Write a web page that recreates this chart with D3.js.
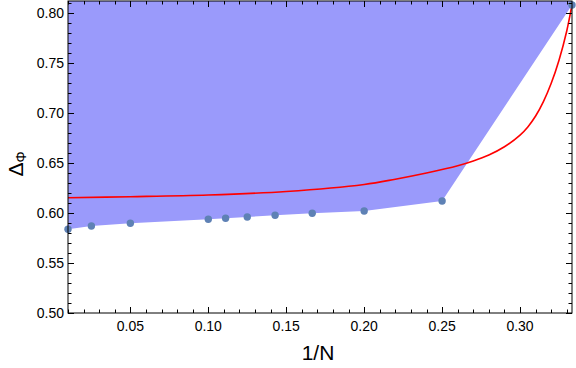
<!DOCTYPE html>
<html><head><meta charset="utf-8">
<script src="https://cdn.jsdelivr.net/npm/d3@7"></script>
<style>body{margin:0;background:#fff}svg{display:block}text{font-family:"Liberation Sans",Arial,sans-serif}</style>
</head><body>
<svg id="c" width="576" height="368"></svg>
<script>
// Data
const invN = [0.01, 0.025, 0.05, 0.1, 1/9, 0.125, 1/7, 1/6, 0.2, 0.25, 1/3];
const delta = [0.5837, 0.587, 0.5897, 0.5937, 0.5947, 0.596, 0.5977, 0.5997, 0.602, 0.612, 0.808];
const curveX = [0.01, 0.05, 0.10, 0.15, 0.20, 0.22, 0.24, 0.26, 0.27, 0.28, 0.29, 0.30, 0.305, 0.31, 0.315, 0.32, 0.325, 0.33, 0.3333];
const curveY = [0.6153, 0.6163, 0.618, 0.6215, 0.6285, 0.6338, 0.640, 0.6472, 0.652, 0.658, 0.6662, 0.6779, 0.6861, 0.697, 0.7114, 0.7297, 0.7528, 0.7823, 0.808];
const xTicks = [0.05, 0.10, 0.15, 0.20, 0.25, 0.30];
const yTicks = [0.50, 0.55, 0.60, 0.65, 0.70, 0.75, 0.80];

const svg = d3.select("#c");
const L = 68, R = 572, T = 1, B = 313;
const x = d3.scaleLinear().domain([0.01, 1/3]).range([L, R]);
const y = d3.scaleLinear().domain([0.5, 0.812]).range([B, T]);

svg.append("defs").append("clipPath").attr("id","clip")
  .append("rect").attr("x",L).attr("y",T).attr("width",R-L).attr("height",B-T);
const g = svg.append("g").attr("clip-path","url(#clip)");

// shaded region
const pts = invN.map((v,i)=>[v, delta[i]]);
const poly = pts.concat([[1/3, 0.812],[0.01, 0.812]]);
g.append("path")
  .attr("d", d3.line().x(d=>x(d[0])).y(d=>y(d[1]))(poly) + "Z")
  .attr("fill", "#9a9afb").attr("stroke","none");

// red curve
g.append("path")
  .datum(curveX.map((v,i)=>[v, curveY[i]]))
  .attr("d", d3.line().x(d=>x(d[0])).y(d=>y(d[1])).curve(d3.curveCatmullRom.alpha(0.5)))
  .attr("fill","none").attr("stroke","#ff0000").attr("stroke-width",1.6);

// points
svg.append("g").selectAll("circle").data(pts).join("circle")
  .attr("cx", d=>x(d[0])).attr("cy", d=>y(d[1])).attr("r", 3.7)
  .attr("fill", "#5e81b5");

// frame
svg.append("rect").attr("x",L).attr("y",T).attr("width",R-L).attr("height",B-T)
  .attr("fill","none").attr("stroke","#000").attr("stroke-width",1);

// ticks
const fmt = d3.format(".2f");
const xMinor = d3.range(1, 34).map(i=>i/100).filter(v=>v>=0.01 && v<=1/3);
const yMinor = d3.range(50, 82).map(i=>i/100);
const tk = svg.append("g").attr("stroke","#000").attr("stroke-width",1);
xMinor.forEach(v=>{
  const major = xTicks.some(t=>Math.abs(t-v)<1e-9);
  const len = major ? 6 : 3.5;
  const px = Math.round(x(v))+0.5;
  tk.append("line").attr("x1",px).attr("x2",px).attr("y1",B).attr("y2",B-len);
  tk.append("line").attr("x1",px).attr("x2",px).attr("y1",T).attr("y2",T+len);
});
yMinor.forEach(v=>{
  const major = yTicks.some(t=>Math.abs(t-v)<1e-9);
  const len = major ? 6 : 3.5;
  const py = Math.round(y(v))+0.5;
  tk.append("line").attr("y1",py).attr("y2",py).attr("x1",L).attr("x2",L+len);
  tk.append("line").attr("y1",py).attr("y2",py).attr("x1",R).attr("x2",R-len);
});

// tick labels
svg.append("g").selectAll("text").data(xTicks).join("text")
  .attr("x", d=>x(d)).attr("y", B+18).attr("text-anchor","middle")
  .attr("font-size",14).text(d=>fmt(d));
svg.append("g").selectAll("text").data(yTicks).join("text")
  .attr("x", L-4).attr("y", d=>y(d)+5).attr("text-anchor","end")
  .attr("font-size",14).text(d=>fmt(d));

// axis labels
svg.append("text").attr("x", 318).attr("y", 360).attr("text-anchor","middle")
  .attr("font-size",21).text("1/N");
const yl = svg.append("text").attr("transform","translate(23,164) rotate(-90)")
  .attr("text-anchor","middle").attr("font-size",21);
yl.append("tspan").text("Δ");
yl.append("tspan").attr("font-size",14).attr("dy",3).text("Φ");
</script>
</body></html>
